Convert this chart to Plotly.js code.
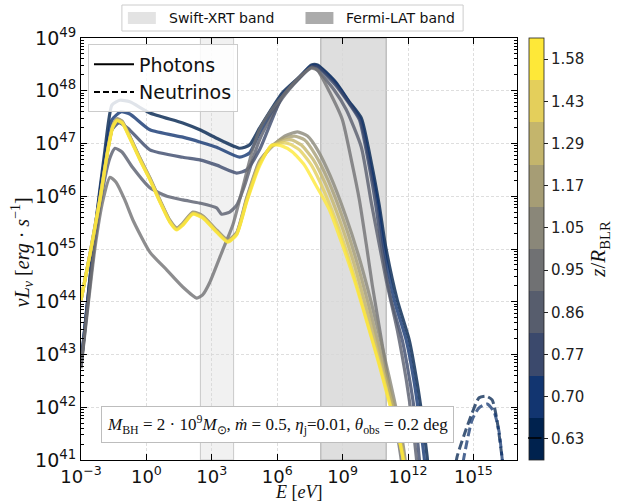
<!DOCTYPE html>
<html>
<head>
<meta charset="utf-8">
<script src="https://cdn.plot.ly/plotly-3.0.1.min.js"></script>
<style>html,body{margin:0;padding:0;background:#fff;}#chart{width:624px;height:504px;}</style>
</head>
<body>
<div id="chart"></div>
<script>
// ---------- DATA (log10 E [eV], log10 nuL_nu [erg/s]) ----------
const zLevels = [0.63, 0.70, 0.77, 0.86, 0.95, 1.05, 1.17, 1.29, 1.43, 1.58];
const zLabels = ['0.63', '0.70', '0.77', '0.86', '0.95', '1.05', '1.17', '1.29', '1.43', '1.58'];
const cividis = ['#00224e', '#123570', '#3b496c', '#575d6d', '#707173', '#8a8779', '#a69d75', '#c4b56c', '#e4cf5b', '#fee838'];

const bandNames = ['Swift-XRT band', 'Fermi-LAT band'];
const swiftBand = [300, 1e4];
const fermiBand = [1e8, 1e11];

const logE_063 = [-3.00,-2.36,-1.90,-1.58,-1.22,-0.76,0.16,1.67,2.45,3.22,4.28,4.73,5.19,6.24,7.02,7.57,7.85,8.67,9.31,9.86,10.32,10.68,10.96,11.51,12.06,12.42,12.65,12.88,12.97];
const logL_063 = [42.80,45.36,46.88,47.73,47.82,47.79,47.58,47.39,47.26,47.10,46.91,46.97,47.29,47.96,48.26,48.49,48.49,48.17,47.79,47.48,46.63,45.83,45.08,44.03,43.27,42.46,41.82,41.06,40.62];

const logE_070 = [-3.00,-2.36,-1.90,-1.58,-1.17,-0.76,0.16,1.67,2.45,3.22,4.28,4.73,5.19,6.24,7.02,7.57,7.85,8.67,9.31,9.81,10.27,10.64,10.87,11.37,11.92,12.29,12.51,12.74,12.84];
const logL_070 = [42.80,45.32,46.73,47.45,47.60,47.56,47.26,47.12,47.03,46.93,46.74,46.82,47.20,47.92,48.26,48.47,48.47,48.15,47.77,47.46,46.59,45.80,45.08,44.03,43.27,42.46,41.82,41.06,40.62];

const logE_077 = [-3.00,-2.36,-1.90,-1.58,-1.26,-0.85,0.16,1.67,2.45,3.22,4.14,4.60,5.19,6.24,7.02,7.57,7.85,8.67,9.31,9.77,10.23,10.55,10.78,11.23,11.74,12.10,12.33,12.51,12.61];
const logL_077 = [42.78,45.25,46.59,47.26,47.39,47.29,46.88,46.74,46.69,46.59,46.44,46.50,46.88,47.90,48.24,48.45,48.45,48.11,47.75,47.45,46.55,45.76,45.08,44.03,43.27,42.46,41.82,41.06,40.62];

const logE_086 = [-3.00,-2.36,-1.90,-1.67,-1.44,-1.12,-0.62,0.16,0.94,1.67,2.45,3.22,3.45,3.82,4.14,4.51,4.87,5.19,5.65,6.24,7.02,7.57,7.85,8.62,9.17,9.86,10.32,11.00,11.51,11.92,12.19,12.38,12.47];
const logL_086 = [42.76,45.13,46.35,46.73,46.91,46.84,46.54,46.16,46.00,45.93,45.87,45.78,45.66,45.70,45.83,46.21,46.69,47.07,47.45,47.86,48.24,48.45,48.39,48.01,47.64,46.93,45.87,44.41,43.46,42.52,41.76,41.06,40.62];

const logE_095 = [-3.00,-2.36,-1.99,-1.67,-1.40,-0.99,-0.62,0.16,0.94,1.67,2.31,2.58,2.90,3.50,3.96,4.51,4.87,5.19,5.65,6.24,7.02,7.57,7.85,8.40,8.99,9.40,9.77,10.09,10.36,10.82,11.23,11.55,11.69,11.78];
const logL_095 = [42.74,45.02,45.93,46.36,46.27,45.93,45.55,44.94,44.60,44.28,44.07,44.13,44.36,44.98,45.45,46.31,46.88,47.26,47.58,47.90,48.26,48.43,48.39,47.98,47.45,46.69,45.93,45.08,44.32,43.18,42.14,41.38,41.00,40.62];

// outer-BLR cluster: shared low-energy energies
const logE_clusterLow = [-3.00,-2.59,-2.13,-1.76,-1.54,-1.35,-1.12,-0.76,-0.30,0.16,0.62,1.07,1.39,1.67,2.13,2.58,3.22,3.73,4.14];

const logLlow_105 = [44.03,44.91,45.97,46.92,47.35,47.47,47.43,47.14,46.73,46.35,45.93,45.55,45.40,45.49,45.70,45.63,45.36,45.17,45.31];
const logEhigh_105 = [4.60,5.19,5.74,6.34,6.93,7.39,7.85,8.44,9.13,9.72,10.32,10.87,11.37,11.74,11.87,11.97];
const logLhigh_105 = [45.97,46.67,46.93,47.14,47.22,47.14,46.88,46.38,45.64,44.89,43.98,43.05,42.14,41.38,41.00,40.62];

const logLlow_117 = [44.03,44.90,45.96,46.91,47.34,47.46,47.42,47.13,46.72,46.34,45.92,45.54,45.39,45.48,45.69,45.62,45.35,45.16,45.30];
const logEhigh_117 = [4.60,5.19,5.74,6.24,6.79,7.25,7.76,8.35,9.04,9.63,10.23,10.78,11.32,11.69,11.83,11.92];
const logLhigh_117 = [45.95,46.65,46.95,47.09,47.14,47.07,46.78,46.29,45.55,44.79,43.88,42.97,42.10,41.38,41.00,40.62];

const logLlow_129 = [44.03,44.90,45.95,46.90,47.33,47.45,47.41,47.12,46.71,46.33,45.91,45.53,45.38,45.47,45.68,45.61,45.34,45.15,45.29];
const logEhigh_129 = [4.60,5.19,5.74,6.24,6.66,7.11,7.66,8.26,8.95,9.54,10.13,10.73,11.28,11.65,11.83,11.92];
const logLhigh_129 = [45.93,46.63,46.95,47.05,47.07,46.97,46.69,46.19,45.45,44.70,43.81,42.90,42.04,41.38,41.00,40.62];

const logLlow_143 = [44.03,44.89,45.94,46.89,47.32,47.44,47.40,47.11,46.70,46.32,45.90,45.52,45.37,45.46,45.67,45.60,45.33,45.14,45.28];
const logEhigh_143 = [4.60,5.19,5.74,6.24,6.57,7.02,7.57,8.17,8.85,9.45,10.04,10.68,11.23,11.60,11.78,11.87];
const logLhigh_143 = [45.91,46.61,46.95,47.01,46.99,46.88,46.59,46.08,45.36,44.60,43.75,42.84,41.99,41.38,41.00,40.62];

const logLlow_158 = [44.03,44.89,45.93,46.88,47.31,47.43,47.39,47.10,46.69,46.31,45.89,45.51,45.36,45.45,45.66,45.59,45.32,45.13,45.27];
const logEhigh_158 = [4.60,5.19,5.74,6.24,6.70,7.25,7.80,8.40,8.99,9.54,10.09,10.68,11.23,11.60,11.78,11.87];
const logLhigh_158 = [45.89,46.57,46.97,46.95,46.84,46.59,46.19,45.74,45.08,44.41,43.65,42.80,41.95,41.38,41.00,40.62];

// neutrino spectra (only two visible above 1e41)
const nuLogE_063 = [14.12,14.25,14.57,14.94,15.26,15.58,15.86,16.08,16.31,16.40];
const nuLogL_063 = [40.72,41.06,41.47,41.89,42.18,42.21,42.14,41.76,41.06,40.72];
const nuLogE_070 = [14.44,14.57,14.94,15.26,15.63,15.95,16.18,16.31,16.40];
const nuLogL_070 = [40.72,41.06,41.76,41.99,42.06,41.91,41.53,41.06,40.72];

const xTickExp = [-3, 0, 3, 6, 9, 12, 15];
const yTickExp = [41, 42, 43, 44, 45, 46, 47, 48, 49];

// ---------- BUILD ----------
const p10 = a => a.map(v => Math.pow(10, v));
const photonSets = [
  [logE_063, logL_063],
  [logE_070, logL_070],
  [logE_077, logL_077],
  [logE_086, logL_086],
  [logE_095, logL_095],
  [logE_clusterLow.concat(logEhigh_105), logLlow_105.concat(logLhigh_105)],
  [logE_clusterLow.concat(logEhigh_117), logLlow_117.concat(logLhigh_117)],
  [logE_clusterLow.concat(logEhigh_129), logLlow_129.concat(logLhigh_129)],
  [logE_clusterLow.concat(logEhigh_143), logLlow_143.concat(logLhigh_143)],
  [logE_clusterLow.concat(logEhigh_158), logLlow_158.concat(logLhigh_158)]
];

const traces = [];
photonSets.forEach((s, i) => {
  traces.push({
    x: p10(s[0]), y: p10(s[1]), type: 'scatter', mode: 'lines',
    line: {color: cividis[i], width: 3.2, shape: 'spline', smoothing: 0.55},
    opacity: 0.8, showlegend: false, hoverinfo: 'skip'
  });
});
[[nuLogE_063, nuLogL_063, 0], [nuLogE_070, nuLogL_070, 1]].forEach(s => {
  traces.push({
    x: p10(s[0]), y: p10(s[1]), type: 'scatter', mode: 'lines',
    line: {color: cividis[s[2]], width: 3, dash: '9px,4px', shape: 'spline', smoothing: 0.6},
    opacity: 0.75, showlegend: false, hoverinfo: 'skip'
  });
});

// colorbar carrier (invisible markers on the first curve's points)
const cs = [];
cividis.forEach((c, i) => { cs.push([i / 10, c]); cs.push([(i + 1) / 10, c]); });
traces.push({
  x: p10(logE_063.slice(0, 10)), y: p10(logL_063.slice(0, 10)),
  type: 'scatter', mode: 'markers', showlegend: false, hoverinfo: 'skip',
  marker: {
    size: 1, opacity: 0, color: zLevels.map((z, i) => i), colorscale: cs, cmin: -0.5, cmax: 9.5,
    showscale: true,
    colorbar: {
      x: 1.0252, xanchor: 'left', xpad: 0, ypad: 0, y: 0.5, yanchor: 'middle',
      len: 1, lenmode: 'fraction', thickness: 15, thicknessmode: 'pixels',
      outlinewidth: 0.8, outlinecolor: '#222',
      tickmode: 'array', tickvals: zLevels.map((z, i) => i), ticktext: zLabels,
      ticks: 'outside', ticklen: 4, tickcolor: '#222',
      tickfont: {family: 'DejaVu Sans', size: 15, color: '#222'},
      title: {text: '<i>z</i>/<i>R</i><sub>BLR</sub>', side: 'right', font: {family: 'Liberation Serif', size: 21, color: '#111'}}
    }
  }
});

// photon / neutrino legend entries
traces.push({x: [null], y: [null], type: 'scatter', mode: 'lines', line: {color: 'black', width: 2}, name: 'Photons', legend: 'legend2'});
traces.push({x: [null], y: [null], type: 'scatter', mode: 'lines', line: {color: 'black', width: 2, dash: '6px,3px'}, name: 'Neutrinos', legend: 'legend2'});

const sup = e => '10<sup>' + (e < 0 ? '\u2212' + (-e) : e) + '</sup>';
const minorY = [];
for (let k = 41; k < 49; k++) for (let m = 2; m <= 9; m++) minorY.push(m * Math.pow(10, k));

// helpers: pixel -> paper (plot area is 437 x 422 px, origin at (81, 460))
const px = v => (v - 81) / 437;
const py = v => (460 - v) / 422;

const layout = {
  width: 624, height: 504,
  margin: {l: 81, r: 106, t: 38, b: 44},
  paper_bgcolor: 'white', plot_bgcolor: 'white',
  font: {family: 'DejaVu Sans', color: '#111'},
  showlegend: true,
  xaxis: {
    type: 'log', range: [-3, 17], autorange: false,
    tickmode: 'array', tickvals: xTickExp.map(e => Math.pow(10, e)), ticktext: xTickExp.map(sup),
    ticks: 'inside', ticklen: 6, tickcolor: 'black', showline: true, linecolor: 'black', linewidth: 1, mirror: 'ticks',
    showgrid: true, gridcolor: '#d6d6d6', griddash: '3px,2px', gridwidth: 0.8, zeroline: false,
    tickfont: {family: 'DejaVu Sans', size: 18, color: '#111'}
  },
  yaxis: {
    type: 'log', range: [41, 49], autorange: false,
    tickmode: 'array', tickvals: yTickExp.map(e => Math.pow(10, e)), ticktext: yTickExp.map(sup),
    ticks: 'inside', ticklen: 6, tickcolor: 'black', showline: true, linecolor: 'black', linewidth: 1, mirror: 'ticks',
    minor: {tickmode: 'array', tickvals: minorY, ticks: 'inside', ticklen: 3, tickcolor: 'black', showgrid: false},
    showgrid: true, gridcolor: '#d6d6d6', griddash: '3px,2px', gridwidth: 0.8, zeroline: false,
    tickfont: {family: 'DejaVu Sans', size: 19, color: '#111'}
  },
  shapes: [
    {type: 'rect', xref: 'x', yref: 'paper', x0: swiftBand[0], x1: swiftBand[1], y0: 0, y1: 1, fillcolor: '#f1f1f1', line: {color: '#c9c9c9', width: 1}, layer: 'below'},
    {type: 'rect', xref: 'x', yref: 'paper', x0: fermiBand[0], x1: fermiBand[1], y0: 0, y1: 1, fillcolor: '#dedede', line: {color: '#a9a9a9', width: 1}, layer: 'below'},
    // top legend frame and patches
    {type: 'rect', xref: 'paper', yref: 'paper', x0: px(122), x1: px(464), y0: py(31), y1: py(5), fillcolor: 'white', line: {color: '#cccccc', width: 1}},
    {type: 'rect', xref: 'paper', yref: 'paper', x0: px(128), x1: px(156), y0: py(24), y1: py(12), fillcolor: '#e3e3e3', line: {width: 0}},
    {type: 'rect', xref: 'paper', yref: 'paper', x0: px(306), x1: px(334), y0: py(24), y1: py(12), fillcolor: '#ababab', line: {width: 0}}
  ],
  legend2: {
    x: 0.016, xanchor: 'left', y: 0.985, yanchor: 'top',
    bgcolor: 'rgba(255,255,255,0.85)', bordercolor: '#cccccc', borderwidth: 1,
    font: {family: 'DejaVu Sans', size: 19, color: '#111'}, itemwidth: 40
  },
  annotations: [
    {
      xref: 'paper', yref: 'paper', x: 0.451, y: 0.083, xanchor: 'center', yanchor: 'middle', showarrow: false,
      text: '<i>M</i><sub>BH</sub> = 2 \u00b7 10<sup>9</sup><i>M</i><sub>\u2299</sub>, <i>\u1e41</i> = 0.5, <i>\u03b7</i><sub>j</sub>=0.01, <i>\u03b8</i><sub>obs</sub> = 0.2 deg',
      font: {family: 'Liberation Serif', size: 17, color: '#111'},
      bgcolor: 'white', bordercolor: '#bdbdbd', borderwidth: 1, borderpad: 5
    },
    {xref: 'paper', yref: 'paper', x: px(167), y: py(18), xanchor: 'left', yanchor: 'middle', showarrow: false,
     text: bandNames[0], font: {family: 'DejaVu Sans', size: 14, color: '#111'}},
    {xref: 'paper', yref: 'paper', x: px(345), y: py(18), xanchor: 'left', yanchor: 'middle', showarrow: false,
     text: bandNames[1], font: {family: 'DejaVu Sans', size: 14, color: '#111'}},
    // y-axis title
    {xref: 'paper', yref: 'paper', x: px(22), y: py(252), xanchor: 'center', yanchor: 'middle', showarrow: false, textangle: -90,
     text: '<i>\u03bdL</i><sub><i>\u03bd</i></sub> [<i>erg</i> \u00b7 <i>s</i><sup>\u22121</sup>]',
     font: {family: 'Liberation Serif', size: 20, color: '#111'}},
    // x-axis title
    {xref: 'paper', yref: 'paper', x: px(299), y: py(492), xanchor: 'center', yanchor: 'middle', showarrow: false,
     text: '<i>E</i> [<i>eV</i>]', font: {family: 'Liberation Serif', size: 18, color: '#111'}, borderpad: 0},
    // black mark on the colorbar at the 0.63 level
    {xref: 'paper', yref: 'paper', x: px(529), y: py(438), ax: 15, ay: 0, showarrow: true, arrowhead: 0, arrowwidth: 1.5, arrowcolor: 'black', text: '', standoff: 0, startstandoff: 0}
  ]
};

Plotly.newPlot('chart', traces, layout, {displayModeBar: false, staticPlot: true});
</script>
</body>
</html>
